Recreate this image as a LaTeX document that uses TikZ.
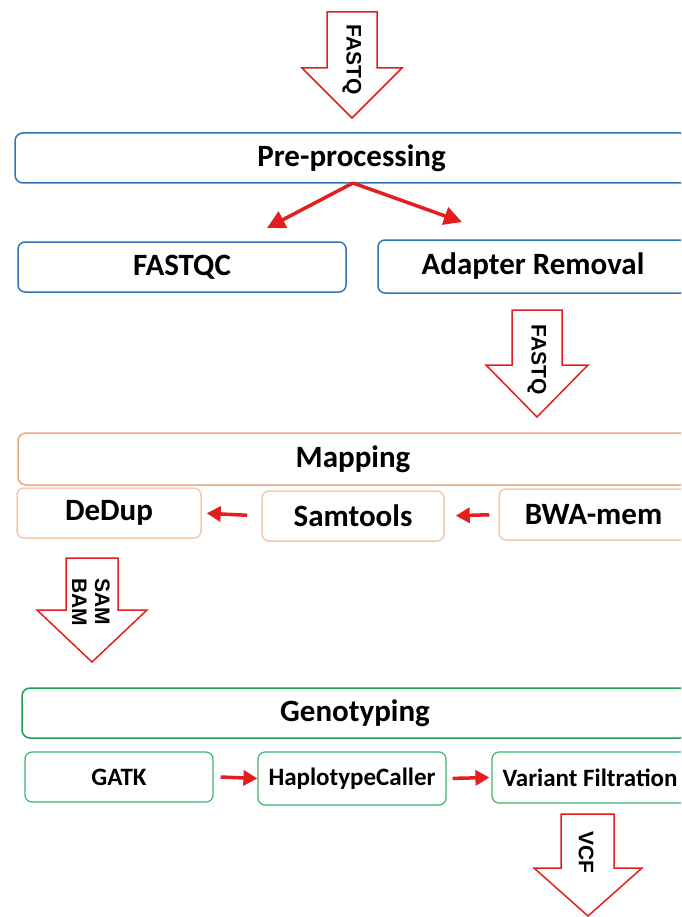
\documentclass[tikz,border=0pt]{standalone}
\usepackage{fontspec}
\setmainfont{Carlito}
\newfontfamily\arrowfont{Liberation Sans}
\usetikzlibrary{arrows.meta}
\definecolor{preblue}{RGB}{46,117,182}
\definecolor{mapdark}{RGB}{236,170,125}
\definecolor{maplight}{RGB}{244,200,170}
\definecolor{gendark}{RGB}{30,155,80}
\definecolor{genlight}{RGB}{60,180,110}
\definecolor{flowred}{RGB}{228,30,30}
\begin{document}
\begin{tikzpicture}[
		x=1pt, y=-1pt,
		stage/.style={draw, rounded corners=8pt, line width=1.5pt, inner sep=0pt, align=center, font=\bfseries\fontsize{31}{35}\selectfont},
		tool/.style={stage, rounded corners=7pt},
		smalltool/.style={tool, line width=1.2pt, font=\bfseries\fontsize{25}{30}\selectfont},
		flow/.style={-{Triangle[length=14pt,width=15pt]}, line width=3.5pt, flowred},
		bigarrow/.style={draw=flowred, line width=1.5pt, fill=white, line join=miter},
		arrowtext/.style={rotate=-90, align=center, inner sep=0pt, font=\arrowfont\bfseries\fontsize{21}{23}\selectfont}
		]
		\useasboundingbox (0,0) rectangle (681,917);
		\clip (0,0) rectangle (681,917);
		
		% FASTQ in
		\draw[bigarrow] (327,12) -- (377,12) -- (377,68) -- (402,68) -- (352,118) -- (302,68) -- (327,68) -- cycle;
		\node[arrowtext] (fastqin) at (352,60) {FASTQ};
		
		% pre-processing
		\node[stage, draw=preblue, minimum width=673pt, minimum height=50pt] (preproc) at (351.5,158) {Pre-processing};
		\node[tool, draw=preblue, minimum width=328pt, minimum height=50pt] (fastqc) at (182,267) {FASTQC};
		\node[tool, draw=preblue, minimum width=310pt, minimum height=53pt] (adapter) at (533,266.5) {Adapter Removal};
		\coordinate (split) at (353,183);
		\coordinate (qcend) at (267,228);
		\coordinate (adend) at (462,222);
		\draw[flow, -{Triangle[length=18pt,width=18pt]}] (split) -- (qcend);
		\draw[flow, -{Triangle[length=18pt,width=18pt]}] (split) -- (adend);
		
		% FASTQ out
		\draw[bigarrow] (512,310) -- (562,310) -- (562,365) -- (588,365) -- (537,417) -- (486,365) -- (512,365) -- cycle;
		\node[arrowtext] (fastqout) at (537,360) {FASTQ};
		
		% mapping
		\node[stage, draw=mapdark, minimum width=670pt, minimum height=52pt] (mapping) at (353,459) {Mapping};
		\node[tool, draw=maplight, minimum width=184pt, minimum height=50pt] (dedup) at (109,513) {DeDup};
		\node[tool, draw=maplight, minimum width=182pt, minimum height=50pt] (samtools) at (353,516) {Samtools};
		\node[tool, draw=maplight, minimum width=189pt, minimum height=51pt] (bwa) at (593.5,514.5) {BWA-mem};
		\draw[flow, shorten <=14pt, shorten >=5pt] (samtools.west) -- (dedup.east);
		\draw[flow, shorten <=9pt, shorten >=11pt] (bwa.west) -- (samtools.east);
		
		% SAM/BAM
		\draw[bigarrow] (66,558) -- (118,558) -- (118,610) -- (147,610) -- (92,662) -- (37,610) -- (66,610) -- cycle;
		\node[arrowtext] (sambam) at (91,602) {SAM\\BAM};
		
		% genotyping
		\node[stage, draw=gendark, minimum width=666pt, minimum height=50pt] (genotyping) at (355,713) {Genotyping};
		\node[smalltool, draw=genlight, minimum width=188pt, minimum height=50pt] (gatk) at (119,777) {GATK};
		\node[smalltool, draw=genlight, minimum width=188pt, minimum height=53pt] (haplo) at (352,778.5) {HaplotypeCaller};
		\node[smalltool, draw=genlight, minimum width=196pt, minimum height=51pt] (variant) at (590,777.5) {Variant Filtration};
		\draw[flow] ([xshift=7pt]gatk.east) -- (haplo.west);
		\draw[flow, shorten <=6pt, shorten >=2pt] (haplo.east) -- (variant.west);
		
		% VCF out
		\draw[bigarrow] (561,814) -- (614,814) -- (614,868) -- (642,868) -- (588,916) -- (534,868) -- (561,868) -- cycle;
		\node[arrowtext] (vcf) at (586,852) {VCF};
	\end{tikzpicture}
\end{document}
